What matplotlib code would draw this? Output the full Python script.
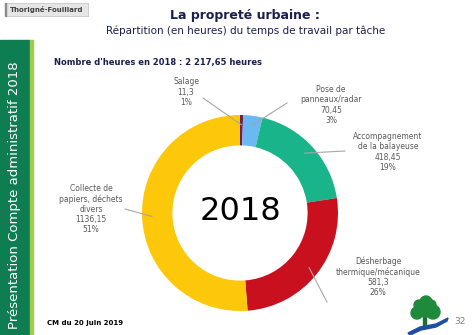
import matplotlib
matplotlib.use("Agg")
import matplotlib.pyplot as plt
import matplotlib.patches as mpatches
import numpy as np

# data
taches = ["Salage", "Pose de\npanneaux/radar", "Accompagnement\nde la balayeuse",
          "Désherbage\nthermique/mécanique", "Collecte de\npapiers, déchets\ndivers"]
heures = [11.3, 70.45, 418.45, 581.3, 1136.15]
heures_txt = ["11,3", "70,45", "418,45", "581,3", "1136,15"]
pourcent = ["1%", "3%", "19%", "26%", "51%"]
couleurs = ["#6e1f4f", "#6cb8f2", "#19b48a", "#c8101e", "#fdc70a"]

# label centres and leader starts (pixels, from top-left)
label_pos = [(186, 92), (331, 105), (388, 152), (378, 277), (91, 209)]
line_start = [(203, 98), (287, 103), (345, 151), (327, 302), (125, 209)]

W, H = 474, 335
fig = plt.figure(figsize=(W / 100, H / 100), dpi=100)

# centre of donut in pixels
cx, cy, R = 240, 213, 98
ax = fig.add_axes([(cx - R) / W, (H - cy - R) / H, 2 * R / W, 2 * R / H])
ax.set_xlim(-1, 1)
ax.set_ylim(-1, 1)
ax.set_aspect("equal")
ax.axis("off")

wedges, _ = ax.pie(heures, colors=couleurs, startangle=90, counterclock=False,
                   radius=1, wedgeprops=dict(width=0.31, edgecolor="none"))
ax.set_xlim(-1, 1)
ax.set_ylim(-1, 1)

ax.text(0, 0.02, "2018", ha="center", va="center", fontsize=23, color="black")

def to_data(p):
    return (p[0] - cx) / R, (cy - p[1]) / R

for i, w in enumerate(wedges):
    ang = np.deg2rad((w.theta1 + w.theta2) / 2)
    r_end = 0.9
    x1, y1 = r_end * np.cos(ang), r_end * np.sin(ang)
    x0, y0 = to_data(line_start[i])
    ax.plot([x0, x1], [y0, y1], color="#a6a6a6", lw=0.8, clip_on=False)
    tx, ty = to_data(label_pos[i])
    ax.text(tx, ty, taches[i] + "\n" + heures_txt[i] + "\n" + pourcent[i],
            ha="center", va="center", fontsize=5.5, color="#595959",
            linespacing=1.15, clip_on=False)

# green side bar
bar = fig.add_axes([0, 0, 1, 1], zorder=-1)
bar.set_xlim(0, W)
bar.set_ylim(H, 0)
bar.axis("off")
bar.add_patch(mpatches.Rectangle((0, 40), 30, H - 40, color="#0f7d52"))
bar.add_patch(mpatches.Rectangle((30, 40), 3, H - 40, color="#9ccc4a"))
bar.text(15, 195, "Présentation Compte administratif 2018", rotation=90,
         ha="center", va="center", fontsize=9.5, color="white")

# top-left tab
bar.add_patch(mpatches.Rectangle((5, 3), 83, 13, facecolor="#e6e6e6", edgecolor="#c8c8c8", lw=0.6))
bar.add_patch(mpatches.Rectangle((5, 3), 1.5, 13, color="#8c8c8c"))
bar.text(47, 9.5, "Thorigné-Fouillard", ha="center", va="center", fontsize=5,
         fontweight="bold", color="#404040")

# titles
bar.text(245, 16, "La propreté urbaine :", ha="center", va="center", fontsize=9,
         fontweight="bold", color="#1a1f4d")
bar.text(246, 31, "Répartition (en heures) du temps de travail par tâche",
         ha="center", va="center", fontsize=7.5, color="#1a1f4d")
bar.text(54, 63, "Nombre d'heures en 2018 : 2 217,65 heures", ha="left",
         va="center", fontsize=6.0, fontweight="bold", color="#1a1f4d")

# footer
bar.text(47, 323, "CM du 20 juin 2019", ha="left", va="center", fontsize=5,
         fontweight="bold", color="black")
bar.text(460, 322, "32", ha="center", va="center", fontsize=6.5, color="#7f7f7f")

# logo: small tree and river
bar.add_patch(mpatches.Rectangle((423, 315), 3, 12, color="#1f6e34"))
for (lx, ly, lr) in [(425, 309, 8), (417, 313, 6), (433, 312, 7), (426, 302, 6),
                     (419, 305, 5), (431, 305, 5)]:
    bar.add_patch(mpatches.Circle((lx, ly), lr, color="#1f8a3c"))
bar.add_patch(mpatches.Polygon([(408, 333), (420, 327), (436, 324), (448, 318),
                                (447, 321), (436, 327), (421, 330), (410, 335)],
                               color="#1c4fa0"))

fig.savefig("out.png", dpi=100)
